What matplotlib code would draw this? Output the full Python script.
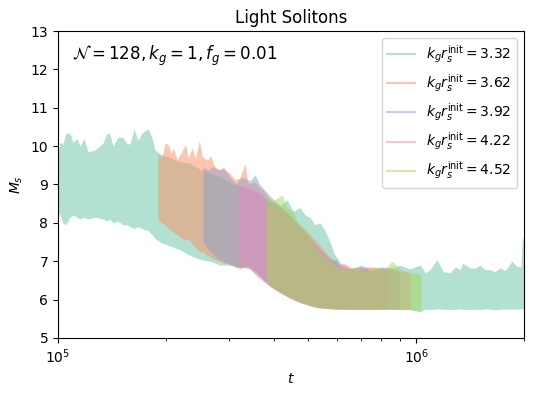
import matplotlib
matplotlib.use("Agg")
import matplotlib.pyplot as plt
import numpy as np

# time in units of 1e5, band envelopes of M_s
t_332 = [1.00, 1.013, 1.032, 1.052, 1.08, 1.101, 1.13, 1.152, 1.182, 1.213,
         1.268, 1.336, 1.37, 1.397, 1.424, 1.47, 1.518, 1.558, 1.589, 1.63,
         1.672, 1.716, 1.783, 1.829, 1.864, 1.927, 2.054, 2.19, 2.336, 2.491,
         2.657, 2.833, 3.021, 3.222, 3.436, 3.664, 3.907, 4.167, 4.36, 4.54,
         4.738, 4.9, 5.053, 5.22, 5.388, 5.56, 5.746, 5.9, 6.05, 6.25,
         6.6, 7.0, 7.5, 8.0, 8.5, 9.0, 9.6, 10.25, 10.6, 10.93,
         11.43, 11.9, 12.43, 12.86, 13.26, 13.5, 14.14, 14.63, 15.1, 15.56,
         16.07, 16.6, 17.14, 17.7, 18.5, 19.1, 19.6, 19.8, 20.0]
hi_332 = [9.9, 10.1, 10.05, 10.34, 10.34, 10.1, 10.2, 10.0, 10.2, 9.85,
          9.9, 10.08, 10.34, 10.3, 10.0, 10.23, 10.23, 10.06, 10.06, 10.45,
          10.15, 10.34, 10.45, 10.23, 9.9, 9.8, 9.7, 9.6, 9.55, 9.4,
          9.3, 9.2, 9.05, 8.95, 8.85, 8.75, 8.55, 8.45, 8.6, 8.3,
          8.4, 8.2, 8.14, 7.95, 8.0, 7.8, 7.5, 7.2, 7.05, 6.85,
          6.8, 6.9, 6.8, 6.85, 6.8, 6.9, 6.8, 6.9, 6.7, 6.78,
          7.04, 6.73, 6.7, 6.85, 6.78, 6.95, 6.83, 6.82, 6.9, 6.78,
          6.78, 6.73, 6.83, 6.75, 7.0, 6.87, 6.85, 7.64, 7.5]
lo_332 = [8.3, 8.2, 8.0, 7.95, 8.15, 8.2, 8.15, 8.1, 8.15, 8.1,
          8.15, 8.1, 8.05, 8.1, 8.0, 8.05, 7.95, 7.95, 7.9, 7.85,
          7.9, 7.85, 7.8, 7.7, 7.6, 7.5, 7.4, 7.3, 7.15, 7.05,
          7.0, 6.9, 6.9, 6.85, 6.8, 6.6, 6.35, 6.2, 6.1, 6.05,
          5.95, 5.9, 5.85, 5.82, 5.8, 5.78, 5.77, 5.76, 5.76, 5.75,
          5.75, 5.76, 5.74, 5.75, 5.76, 5.75, 5.74, 5.68, 5.75, 5.74,
          5.76, 5.75, 5.74, 5.75, 5.76, 5.75, 5.74, 5.75, 5.74, 5.76,
          5.75, 5.74, 5.75, 5.76, 5.75, 5.76, 5.76, 5.76, 5.75]

t_362 = [1.90, 1.95, 1.99, 2.03, 2.07, 2.10, 2.15, 2.22, 2.27, 2.31,
         2.37, 2.42, 2.48, 2.53, 2.61, 2.67, 2.74, 2.83, 2.89, 3.02,
         3.12, 3.22, 3.33, 3.39, 3.55, 3.66, 3.74, 3.91, 4.17, 4.44,
         4.74, 5.05, 5.39, 5.75, 6.13, 6.4, 6.8, 7.2, 7.6, 8.0, 8.34]
hi_362 = [9.82, 9.7, 10.08, 10.05, 9.82, 9.95, 9.64, 9.87, 10.05, 9.7,
          9.95, 9.68, 10.14, 9.72, 9.64, 9.75, 9.46, 9.38, 9.4, 9.3,
          9.12, 9.17, 9.55, 9.03, 9.07, 8.9, 8.85, 8.6, 8.4, 8.2,
          7.95, 7.7, 7.4, 7.1, 6.9, 6.9, 6.75, 6.85, 6.85, 6.8, 6.75]
lo_362 = [8.1, 8.0, 7.95, 7.85, 7.8, 7.75, 7.7, 7.6, 7.55, 7.6,
          7.45, 7.35, 7.25, 7.25, 7.15, 7.1, 7.05, 7.0, 6.95, 6.95,
          6.85, 6.8, 6.85, 6.85, 6.75, 6.6, 6.5, 6.35, 6.2, 6.05,
          5.95, 5.85, 5.8, 5.77, 5.76, 5.75, 5.76, 5.75, 5.76, 5.75, 5.76]

t_392 = [2.54, 2.63, 2.71, 2.80, 2.90, 3.03, 3.15, 3.24, 3.44, 3.55,
         3.66, 3.91, 4.17, 4.44, 4.74, 5.05, 5.39, 5.75, 6.0, 6.13,
         6.5, 7.0, 7.5, 8.0, 8.5, 8.95]
hi_392 = [9.47, 9.38, 9.47, 9.38, 9.45, 9.17, 9.03, 9.2, 9.1, 9.25,
          9.0, 8.7, 8.45, 8.2, 7.9, 7.6, 7.3, 7.05, 7.04, 6.85,
          6.8, 6.85, 6.75, 6.8, 6.85, 6.7]
lo_392 = [7.5, 7.3, 7.2, 7.05, 7.0, 6.9, 6.85, 6.85, 6.9, 6.75,
          6.6, 6.4, 6.2, 6.05, 5.92, 5.84, 5.78, 5.76, 5.75, 5.76,
          5.75, 5.74, 5.75, 5.76, 5.75, 5.74]

t_422 = [3.18, 3.33, 3.44, 3.59, 3.78, 4.03, 4.3, 4.58, 4.9, 5.22,
         5.56, 5.93, 6.3, 6.5, 7.0, 7.5, 8.0, 8.5, 9.0, 9.6]
hi_422 = [9.0, 8.95, 8.9, 8.85, 8.65, 8.45, 8.25, 8.0, 7.75, 7.45,
          7.15, 6.9, 6.95, 6.8, 6.85, 6.75, 6.85, 6.8, 6.75, 6.7]
lo_422 = [7.0, 6.9, 6.8, 6.6, 6.45, 6.25, 6.1, 5.97, 5.88, 5.8,
          5.77, 5.76, 5.75, 5.76, 5.74, 5.75, 5.76, 5.75, 5.74, 5.75]

t_452 = [3.81, 3.96, 4.03, 4.22, 4.36, 4.54, 4.74, 4.96, 5.28, 5.64,
         6.01, 6.33, 6.73, 7.2, 7.66, 8.17, 8.56, 9.0, 9.3, 9.6,
         9.99, 10.3]
hi_452 = [8.68, 8.57, 8.6, 8.73, 8.4, 8.28, 7.9, 7.76, 7.3, 7.05,
          6.85, 6.8, 6.85, 6.75, 6.85, 6.8, 7.0, 6.8, 6.75, 6.7,
          6.68, 6.65]
lo_452 = [6.45, 6.35, 6.3, 6.15, 6.1, 6.0, 5.95, 5.87, 5.8, 5.77,
          5.76, 5.75, 5.76, 5.74, 5.75, 5.76, 5.75, 5.74, 5.75, 5.74,
          5.73, 5.72]

labels = ["3.32", "3.62", "3.92", "4.22", "4.52"]
colors = ["#66c2a5", "#fc8d62", "#8da0cb", "#e78ac3", "#a6d854"]

series = [
    (t_332, lo_332, hi_332),
    (t_362, lo_362, hi_362),
    (t_392, lo_392, hi_392),
    (t_422, lo_422, hi_422),
    (t_452, lo_452, hi_452),
]

fig = plt.figure(figsize=(5.37, 3.96), dpi=100)
ax = fig.add_axes([0.108, 0.1465, 0.8678, 0.7752])

for (t, lo, hi), lab, c in zip(series, labels, colors):
    t = np.array(t) * 1e5
    ax.fill_between(t, lo, hi, color=c, alpha=0.5, linewidth=0)
    ax.plot([], [], color=c, alpha=0.5, label=r"$k_g r_s^{\rm init} = %s$" % lab)

ax.set_xscale("log")
ax.set_xlim(1e5, 2e6)
ax.set_ylim(5, 13)
ax.set_yticks(range(5, 14))
ax.set_xlabel(r"$t$")
ax.set_ylabel(r"$M_s$")
ax.set_title("Light Solitons")
ax.text(0.03, 0.92, r"$\mathcal{N} = 128, k_g = 1, f_g = 0.01$",
        transform=ax.transAxes, fontsize=12, va="center")
ax.legend(loc="upper right")

fig.savefig("out.png", dpi=100)
